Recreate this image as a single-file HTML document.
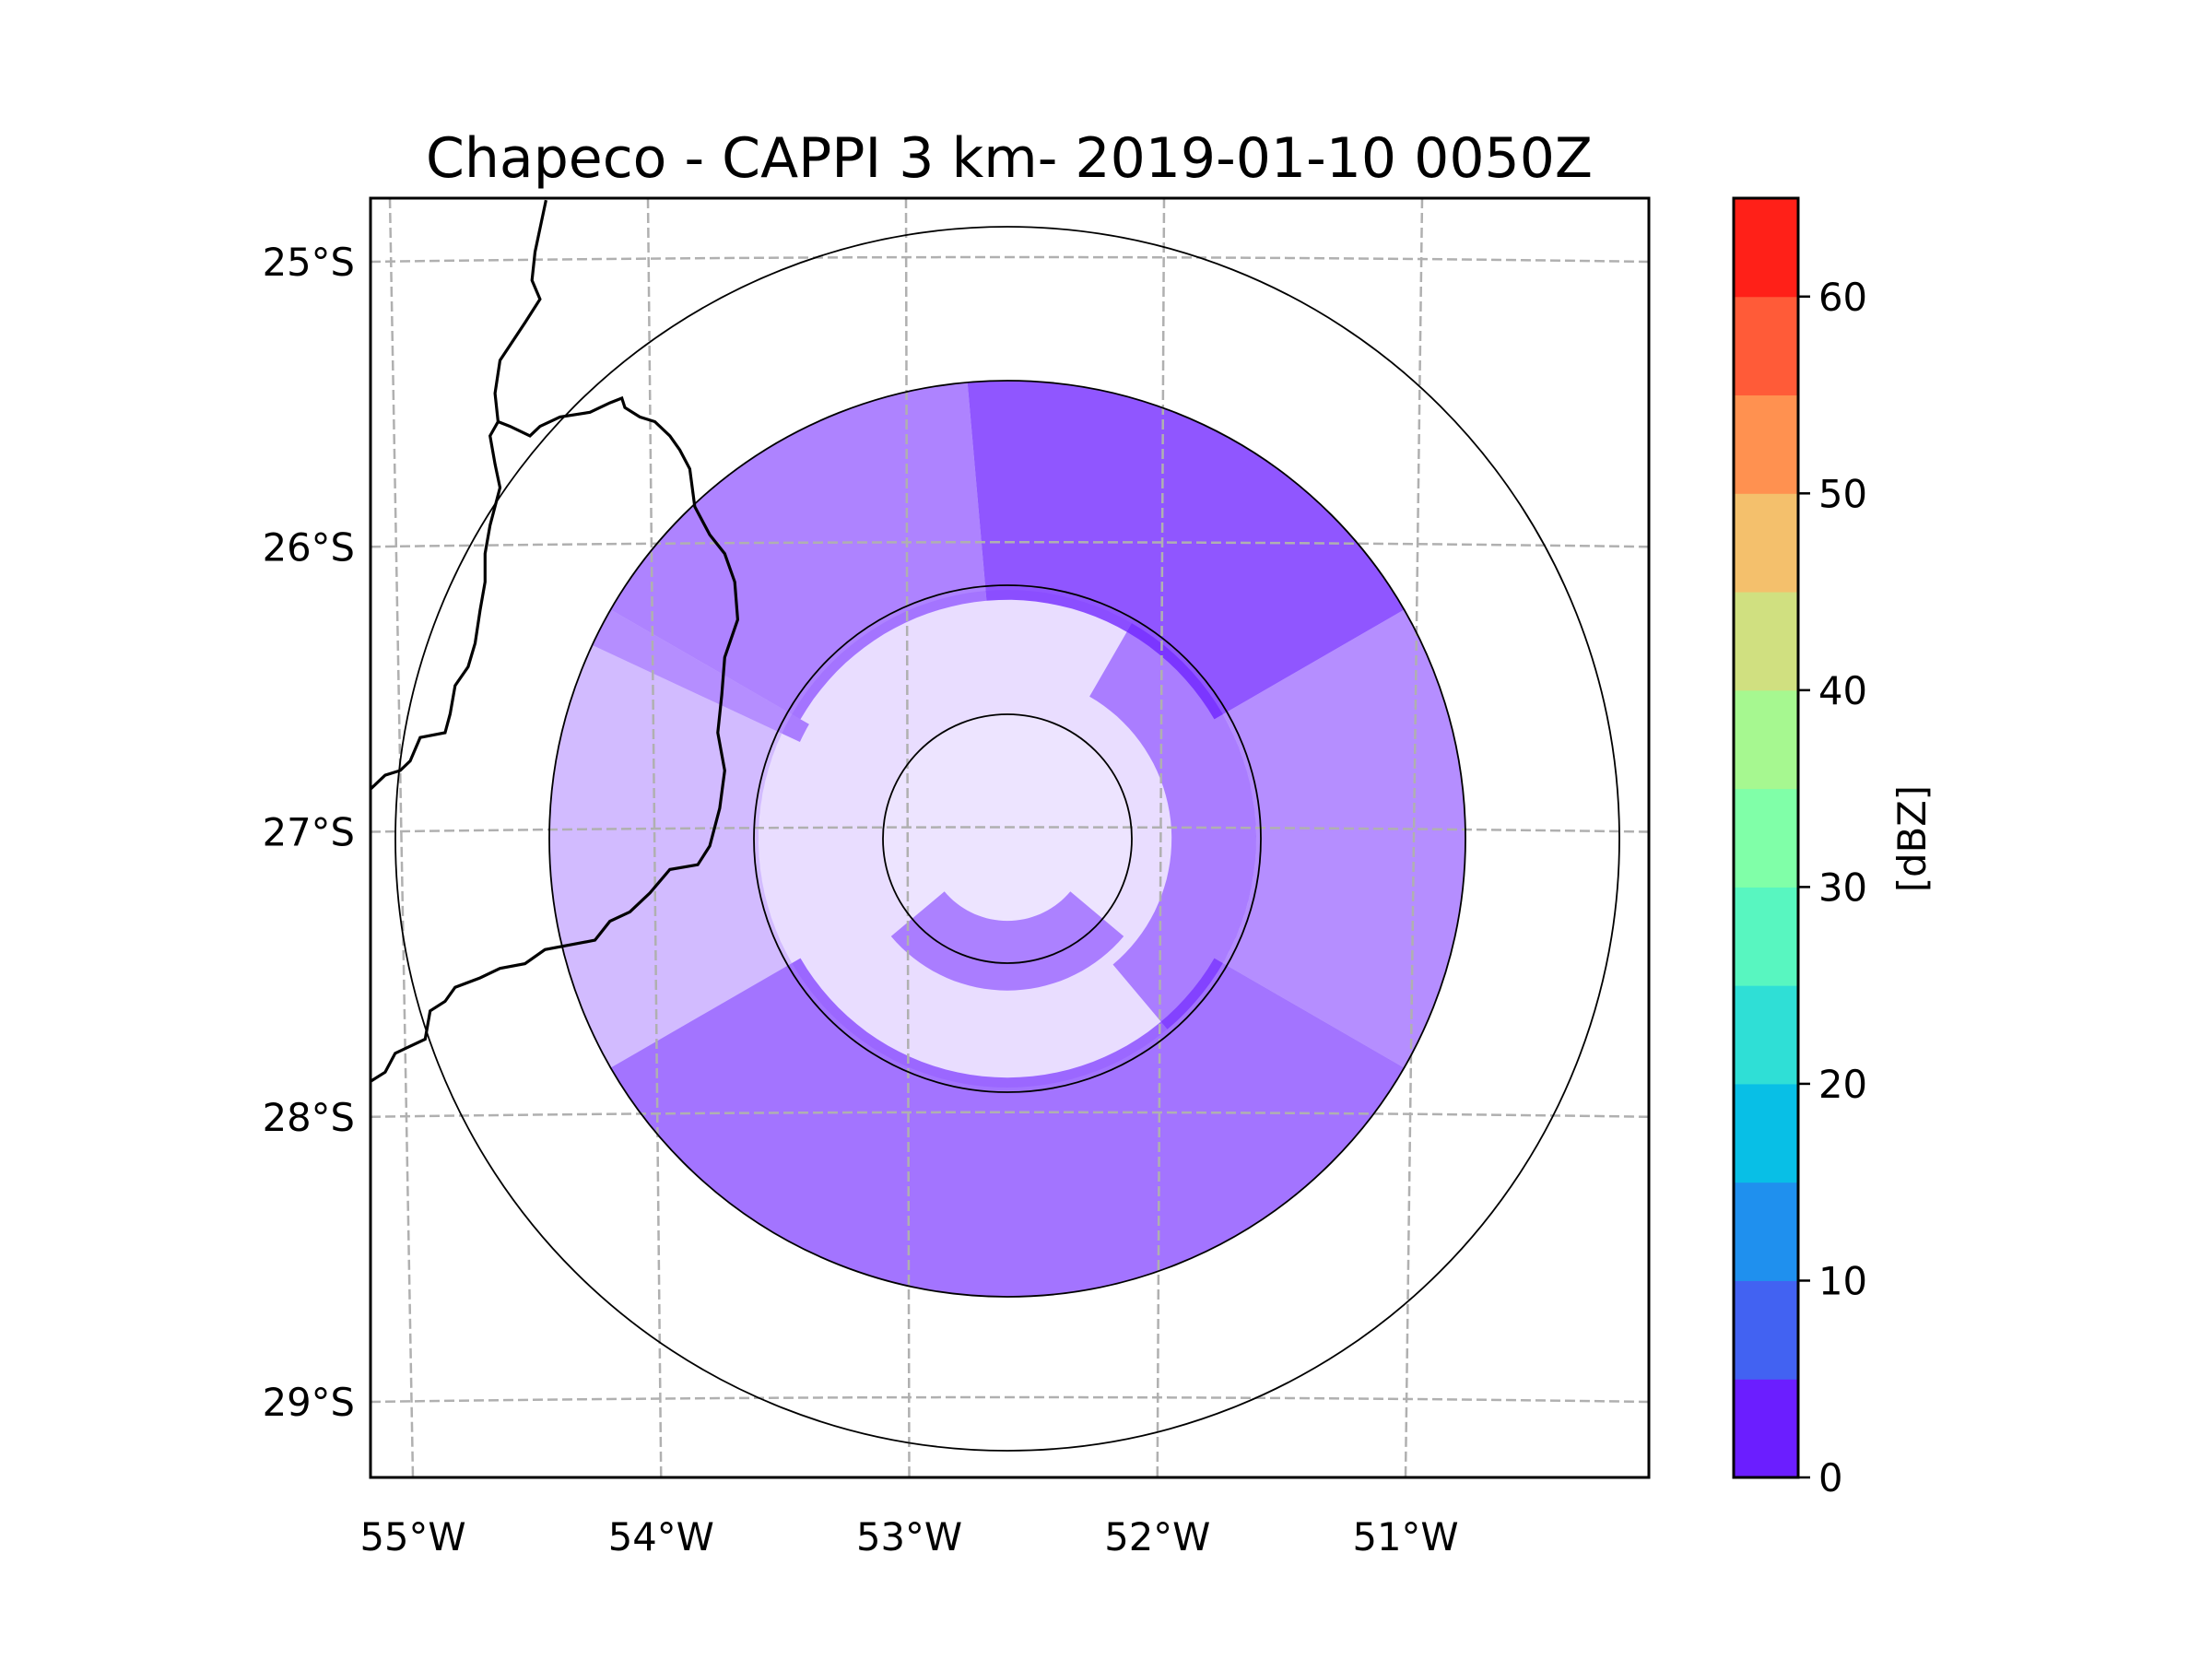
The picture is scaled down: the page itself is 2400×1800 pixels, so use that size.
<!DOCTYPE html>
<html><head><meta charset="utf-8"><style>
html,body{margin:0;padding:0;background:#fff;}
svg{display:block;font-family:"DejaVu Sans","Liberation Sans",sans-serif;}
</style></head><body>
<svg id="fig" width="2400" height="1800" viewBox="0 0 2400 1800" xmlns="http://www.w3.org/2000/svg">
<defs><clipPath id="axclip"><rect x="402" y="215" width="1387" height="1388"/></clipPath>
<clipPath id="rangeclip"><circle cx="1093" cy="910" r="497"/></clipPath></defs>
<rect width="2400" height="1800" fill="#fff"/>
<text x="1095" y="192" font-size="60" text-anchor="middle">Chapeco - CAPPI 3 km- 2019-01-10 0050Z</text>
<g id="echoes" clip-path="url(#rangeclip)"></g>
<g id="grid" clip-path="url(#axclip)"></g>
<g id="rings"></g>
<g id="borders" clip-path="url(#axclip)"></g>
<rect x="402" y="215" width="1387" height="1388" fill="none" stroke="#000" stroke-width="3"/>
<g id="ticks"></g>
<g id="cbar"></g>
<text transform="translate(2089,910) rotate(-90)" font-size="41.7" text-anchor="middle">[dBZ]</text>
</svg>
<script>
const NS='http://www.w3.org/2000/svg';
// data
const lonTicks=[-55,-54,-53,-52,-51];
const lonLabels=['55°W','54°W','53°W','52°W','51°W'];
const latTicks=[-25,-26,-27,-28,-29];
const latLabels=['25°S','26°S','27°S','28°S','29°S'];
const ringRadiiKm=[50,100,150,200];
const cbarBounds=[0,5,10,15,20,25,30,35,40,45,50,55,60,65];
const cbarColors=['#6b1eff','#4262f2','#1f90ee','#08bfe6','#2fdfd6','#58f6c0','#80ffa8','#a6f890','#d0e080','#f4c06c','#ff9150','#ff5b38','#ff2018'];
const cbarTicks=[0,10,20,30,40,50,60];
// echo sectors: [rInnerKm, rOuterKm, angStart, angEnd, coverage]
const echoR0=[0,50,33,96,96,100,96,100,92,66];
const echoR1=[50,100,61,184,184,184,184,184,184,100];
const echoA0=[0,0,40,-150,-95,-30,30,150,205,-60];
const echoA1=[360,360,140,-95,-30,30,150,205,210,50];
const echoCov=[0.12,0.15,0.5,0.55,0.75,0.5,0.62,0.3,0.5,0.5];

const cx=1093,cy=910,kmPx=2.7;
const AX={l:402,r:1789,t:215,b:1603};
function lonX(lon,y){const f=(y-AX.t)/(AX.b-AX.t);const top=423+(lon+55)*280,bot=448+(lon+55)*269.25;return top+(bot-top)*f;}
function latY(lat){return 284+(-25-lat)*309.25;}
function mk(tag,attrs,parent,name,text){const e=document.createElementNS(NS,tag);for(const k in attrs)e.setAttribute(k,attrs[k]);


if(text!==undefined)e.textContent=text;parent.appendChild(e);return e;}
// echoes
const eg=document.getElementById('echoes');
function sector(r0,r1,a0,a1){const R0=r0*kmPx,R1=r1*kmPx;const p=[];const n=Math.max(4,Math.ceil((a1-a0)/3));
for(let i=0;i<=n;i++){const a=(a0+(a1-a0)*i/n)*Math.PI/180;p.push([cx+R1*Math.cos(a),cy+R1*Math.sin(a)]);}
for(let i=n;i>=0;i--){const a=(a0+(a1-a0)*i/n)*Math.PI/180;p.push([cx+R0*Math.cos(a),cy+R0*Math.sin(a)]);}
return 'M'+p.map(q=>q[0].toFixed(1)+','+q[1].toFixed(1)).join('L')+'Z';}
for(let i=0;i<echoR0.length;i++){mk('path',{d:sector(echoR0[i],echoR1[i],echoA0[i],echoA1[i]),fill:'#6b1eff','fill-opacity':echoCov[i],'fill-rule':'evenodd'},eg,'echo-sector');}
// grid
const gg=document.getElementById('grid');
lonTicks.forEach(lon=>{mk('line',{x1:lonX(lon,AX.t),y1:AX.t,x2:lonX(lon,AX.b),y2:AX.b,stroke:'#b0b0b0','stroke-width':2.5,'stroke-dasharray':'11,5'},gg,'meridian');});
latTicks.forEach(lat=>{const y=latY(lat);mk('path',{d:`M${AX.l},${y} Q${(AX.l+AX.r)/2},${y-10} ${AX.r},${y}`,fill:'none',stroke:'#b0b0b0','stroke-width':2.5,'stroke-dasharray':'11,5'},gg,'parallel');});
// rings
const rg=document.getElementById('rings');
const ringPx=[135,275,497,664];
ringPx.forEach(r=>mk('circle',{cx:cx,cy:cy,r:r,fill:'none',stroke:'#000','stroke-width':1.8},rg,'range-ring'));
// borders (traced outlines)
const bg=document.getElementById('borders');
function tr(pts){return 'M'+pts.map(p=>(380+p[0]*1.0836).toFixed(1)+','+(120+p[1]*1.0228).toFixed(1)).join('L');}
const b1=[[196,95],[185,150],[182,180],[190,200],[175,225],[150,265],[145,300],[148,330],[140,345],[145,375],[150,400],[140,440],[135,470],[135,500],[130,530],[125,565],[118,590],[105,610],[100,640],[95,660],[70,665],[60,690],[50,700],[35,705],[20,720]];
const b2=[[148,330],[160,335],[180,345],[190,335],[210,325],[240,320],[260,310],[272,305],[275,315],[290,325],[305,330],[320,345],[330,360],[340,380],[345,420],[360,450],[375,470],[385,500],[388,540],[375,580],[372,620],[368,660],[375,700],[370,740],[360,780],[348,800],[320,805],[300,830],[280,850],[260,860],[245,880],[220,885],[195,890],[175,905],[150,910],[130,920],[105,930],[95,945],[80,955],[75,985],[55,995],[45,1000],[35,1020],[20,1030]];
mk('path',{d:tr(b1),fill:'none',stroke:'#000','stroke-width':3.2},bg,'country-border');
mk('path',{d:tr(b2),fill:'none',stroke:'#000','stroke-width':3.2},bg,'state-border');
// tick labels
const tg=document.getElementById('ticks');
lonTicks.forEach((lon,i)=>mk('text',{x:lonX(lon,AX.b),y:1682,'font-size':41.7,'text-anchor':'middle'},tg,'x-tick-label',lonLabels[i]));
latTicks.forEach((lat,i)=>mk('text',{x:385,y:latY(lat)+15,'font-size':41.7,'text-anchor':'end'},tg,'y-tick-label',latLabels[i]));
// colorbar
const cg=document.getElementById('cbar');
const CB={l:1881,r:1951,t:215,b:1603};
const vmax=cbarBounds[cbarBounds.length-1];
function cbY(v){return CB.b-(v/vmax)*(CB.b-CB.t);}
cbarColors.forEach((c,i)=>mk('rect',{x:CB.l,y:cbY(cbarBounds[i+1]),width:CB.r-CB.l,height:cbY(cbarBounds[i])-cbY(cbarBounds[i+1])+0.5,fill:c},cg,'colorbar-bin'));
mk('rect',{x:CB.l,y:CB.t,width:CB.r-CB.l,height:CB.b-CB.t,fill:'none',stroke:'#000','stroke-width':3},cg,'colorbar-frame');
cbarTicks.forEach(v=>{const y=cbY(v);mk('line',{x1:CB.r,y1:y,x2:CB.r+13,y2:y,stroke:'#000','stroke-width':2.5},cg,'colorbar-tick');
mk('text',{x:CB.r+22,y:y+15,'font-size':41.7},cg,'colorbar-tick-label',String(v));});
</script>
</body></html>
